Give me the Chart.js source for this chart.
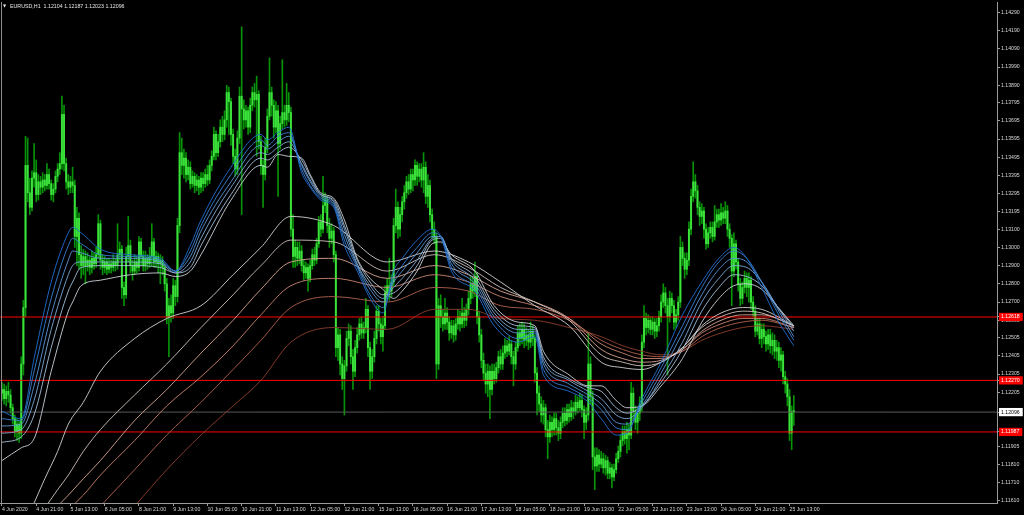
<!DOCTYPE html>
<html><head><meta charset="utf-8">
<script src="https://cdn.jsdelivr.net/npm/chart.js@4"></script>
<style>
html,body{margin:0;padding:0;background:#000;overflow:hidden}
#wrap{position:relative;width:1024px;height:515px}
#leftEdge{position:absolute;left:1px;top:2px;width:1px;height:501px;background:#8c8c8c}
</style></head>
<body><div id="wrap"><canvas id="c" width="1024" height="515"></canvas><div id="leftEdge"></div></div>
<script>
const symbolTitle = 'EURUSD,H1  1.12104 1.12187 1.12023 1.12096';

const xTickIdx = [0,16,32,48,64,80,96,112,128,144,160,176,192,208,224,240,256,272,288,304,320,336,352,368];
const xTickLabels = ['4 Jun 2020','4 Jun 21:00','5 Jun 13:00','8 Jun 05:00','8 Jun 21:00','9 Jun 13:00','10 Jun 05:00','10 Jun 21:00','11 Jun 13:00','12 Jun 05:00','12 Jun 21:00','15 Jun 13:00','16 Jun 05:00','16 Jun 21:00','17 Jun 13:00','18 Jun 05:00','18 Jun 21:00','19 Jun 13:00','22 Jun 05:00','22 Jun 21:00','23 Jun 13:00','24 Jun 05:00','24 Jun 21:00','25 Jun 13:00'];

const yTickLabels = ['1.14290','1.14190','1.14090','1.13990','1.13890','1.13795','1.13695','1.13595','1.13495','1.13395','1.13295','1.13195','1.13100','1.13000','1.12900','1.12800','1.12700','1.12600','1.12505','1.12405','1.12305','1.12205','1.11905','1.11810','1.11710','1.11610'];
const redLevels = [1.12618, 1.12270, 1.11987];
const bidLevel = 1.12096;

const opens = [
1.1220,1.1222,1.1217,1.1221,1.1219,1.1212,1.1206,1.1199,1.1203,1.1198,
1.1236,1.1267,1.1345,1.1330,1.1322,1.1338,1.1341,1.1329,1.1336,1.1333,
1.1337,1.1334,1.1340,1.1335,1.1329,1.1332,1.1339,1.1343,1.1346,1.1373,
1.1346,1.1336,1.1333,1.1336,1.1334,1.1306,1.1316,1.1296,1.1290,1.1295,
1.1290,1.1293,1.1289,1.1294,1.1291,1.1296,1.1313,1.1293,1.1289,1.1292,
1.1288,1.1291,1.1289,1.1292,1.1290,1.1296,1.1299,1.1278,1.1274,1.1295,
1.1301,1.1290,1.1287,1.1292,1.1289,1.1303,1.1295,1.1290,1.1294,1.1291,
1.1295,1.1303,1.1292,1.1295,1.1291,1.1293,1.1289,1.1280,1.1262,1.1268,
1.1264,1.1279,1.1273,1.1312,1.1352,1.1345,1.1349,1.1340,1.1344,1.1335,
1.1339,1.1334,1.1337,1.1333,1.1338,1.1335,1.1340,1.1337,1.1345,1.1350,
1.1362,1.1352,1.1358,1.1366,1.1362,1.1370,1.1385,1.1380,1.1362,1.1350,
1.1343,1.1360,1.1383,1.1376,1.1370,1.1375,1.1366,1.1378,1.1385,1.1381,
1.1384,1.1358,1.1345,1.1340,1.1355,1.1372,1.1385,1.1378,1.1366,1.1375,
1.1357,1.1368,1.1374,1.1370,1.1378,1.1374,1.1310,1.1295,1.1300,1.1294,
1.1298,1.1290,1.1286,1.1289,1.1283,1.1290,1.1296,1.1293,1.1302,1.1314,
1.1310,1.1323,1.1326,1.1312,1.1305,1.1309,1.1296,1.1245,1.1252,1.1236,
1.1228,1.1235,1.1250,1.1254,1.1240,1.1232,1.1245,1.1252,1.1258,1.1253,
1.1256,1.1266,1.1245,1.1232,1.1240,1.1250,1.1265,1.1258,1.1251,1.1257,
1.1275,1.1279,1.1276,1.1281,1.1312,1.1322,1.1310,1.1318,1.1325,1.1330,
1.1336,1.1332,1.1340,1.1337,1.1345,1.1339,1.1343,1.1337,1.1344,1.1328,
1.1334,1.1318,1.1310,1.1306,1.1236,1.1268,1.1262,1.1258,1.1264,1.1259,
1.1253,1.1257,1.1252,1.1258,1.1262,1.1258,1.1264,1.1260,1.1266,1.1272,
1.1280,1.1276,1.1284,1.1262,1.1252,1.1238,1.1231,1.1225,1.1232,1.1222,
1.1232,1.1228,1.1234,1.1240,1.1236,1.1242,1.1246,1.1243,1.1247,1.1240,
1.1236,1.1245,1.1253,1.1250,1.1255,1.1249,1.1252,1.1248,1.1254,1.1250,
1.1231,1.1220,1.1214,1.1208,1.1212,1.1200,1.1196,1.1204,1.1200,1.1206,
1.1201,1.1198,1.1204,1.1209,1.1205,1.1211,1.1207,1.1212,1.1210,1.1215,
1.1212,1.1216,1.1211,1.1204,1.1208,1.1236,1.1218,1.1185,1.1180,1.1186,
1.1181,1.1184,1.1179,1.1183,1.1176,1.1179,1.1174,1.1178,1.1184,1.1188,
1.1194,1.1199,1.1195,1.1200,1.1197,1.1220,1.1210,1.1204,1.1209,1.1214,
1.1248,1.1261,1.1256,1.1260,1.1255,1.1259,1.1254,1.1257,1.1262,1.1270,
1.1275,1.1268,1.1262,1.1272,1.1268,1.1259,1.1263,1.1270,1.1300,1.1294,
1.1288,1.1293,1.1310,1.1328,1.1336,1.1331,1.1322,1.1317,1.1320,1.1310,
1.1302,1.1308,1.1311,1.1306,1.1314,1.1318,1.1315,1.1319,1.1316,1.1320,
1.1310,1.1305,1.1287,1.1302,1.1292,1.1280,1.1272,1.1278,1.1283,1.1278,
1.1282,1.1270,1.1265,1.1254,1.1258,1.1250,1.1255,1.1251,1.1247,1.1252,
1.1246,1.1249,1.1243,1.1245,1.1238,1.1241,1.1229,1.1225,1.1218,1.1198,
1.12104];
const highs = [
1.1226,1.1225,1.1224,1.1226,1.1222,1.1214,1.1208,1.1206,1.1205,1.1240,
1.1271,1.1361,1.1360,1.1338,1.1342,1.1357,1.1348,1.1340,1.1339,1.1341,
1.1340,1.1346,1.1343,1.1337,1.1335,1.1342,1.1346,1.1352,1.1383,1.1378,
1.1349,1.1340,1.1339,1.1344,1.1337,1.1322,1.1319,1.1301,1.1299,1.1298,
1.1297,1.1295,1.1298,1.1297,1.1300,1.1318,1.1315,1.1296,1.1295,1.1294,
1.1294,1.1293,1.1296,1.1294,1.1313,1.1303,1.1301,1.1281,1.1300,1.1317,
1.1304,1.1293,1.1296,1.1295,1.1306,1.1305,1.1298,1.1298,1.1296,1.1300,
1.1313,1.1305,1.1298,1.1297,1.1296,1.1295,1.1291,1.1283,1.1272,1.1274,
1.1283,1.1282,1.1316,1.1363,1.1360,1.1354,1.1352,1.1348,1.1347,1.1342,
1.1341,1.1340,1.1339,1.1341,1.1341,1.1343,1.1345,1.1348,1.1353,1.1366,
1.1364,1.1362,1.1370,1.1372,1.1375,1.1389,1.1388,1.1382,1.1365,1.1354,
1.1364,1.1388,1.1421,1.1381,1.1378,1.1377,1.1382,1.1388,1.1390,1.1394,
1.1386,1.1361,1.1348,1.1360,1.1376,1.1404,1.1388,1.1381,1.1380,1.1378,
1.1372,1.1403,1.1378,1.1390,1.1385,1.1377,1.1318,1.1304,1.1303,1.1303,
1.1301,1.1293,1.1292,1.1291,1.1293,1.1299,1.1300,1.1305,1.1317,1.1318,
1.1339,1.1330,1.1328,1.1316,1.1313,1.1311,1.1298,1.1256,1.1255,1.1240,
1.1238,1.1254,1.1258,1.1257,1.1244,1.1249,1.1256,1.1261,1.1262,1.1259,
1.1272,1.1268,1.1248,1.1244,1.1254,1.1268,1.1268,1.1261,1.1262,1.1279,
1.1283,1.1294,1.1285,1.1316,1.1332,1.1325,1.1322,1.1328,1.1334,1.1339,
1.1340,1.1343,1.1343,1.1348,1.1347,1.1346,1.1346,1.1352,1.1347,1.1340,
1.1337,1.1321,1.1314,1.1308,1.1272,1.1274,1.1266,1.1272,1.1267,1.1262,
1.1260,1.1260,1.1261,1.1266,1.1265,1.1272,1.1267,1.1269,1.1276,1.1284,
1.1284,1.1292,1.1286,1.1265,1.1255,1.1242,1.1236,1.1236,1.1235,1.1236,
1.1236,1.1237,1.1243,1.1244,1.1246,1.1250,1.1249,1.1251,1.1249,1.1243,
1.1248,1.1257,1.1258,1.1259,1.1258,1.1256,1.1255,1.1259,1.1257,1.1252,
1.1234,1.1224,1.1218,1.1216,1.1214,1.1205,1.1208,1.1207,1.1209,1.1209,
1.1205,1.1207,1.1212,1.1212,1.1214,1.1214,1.1216,1.1215,1.1219,1.1218,
1.1220,1.1219,1.1213,1.1212,1.1253,1.1240,1.1221,1.1190,1.1190,1.1189,
1.1188,1.1187,1.1186,1.1185,1.1182,1.1181,1.1181,1.1187,1.1191,1.1197,
1.1202,1.1202,1.1204,1.1203,1.1226,1.1223,1.1213,1.1212,1.1218,1.1252,
1.1268,1.1264,1.1263,1.1262,1.1262,1.1261,1.1261,1.1265,1.1274,1.1280,
1.1278,1.1272,1.1276,1.1275,1.1271,1.1266,1.1273,1.1306,1.1303,1.1297,
1.1297,1.1314,1.1332,1.1347,1.1340,1.1334,1.1325,1.1324,1.1322,1.1313,
1.1311,1.1314,1.1314,1.1323,1.1321,1.1321,1.1324,1.1322,1.1325,1.1323,
1.1313,1.1307,1.1308,1.1304,1.1294,1.1283,1.1281,1.1287,1.1286,1.1286,
1.1284,1.1273,1.1268,1.1261,1.1261,1.1258,1.1258,1.1254,1.1255,1.1255,
1.1253,1.1252,1.1249,1.1248,1.1245,1.1243,1.1232,1.1228,1.1222,1.1213,
1.12187];
const lows = [
1.1216,1.1214,1.1213,1.1215,1.1209,1.1203,1.1196,1.1194,1.1193,1.1195,
1.1230,1.1262,1.1325,1.1318,1.1320,1.1333,1.1325,1.1326,1.1329,1.1330,
1.1331,1.1332,1.1332,1.1326,1.1325,1.1330,1.1336,1.1340,1.1343,1.1342,
1.1332,1.1329,1.1330,1.1330,1.1300,1.1290,1.1288,1.1283,1.1285,1.1280,
1.1287,1.1285,1.1286,1.1288,1.1289,1.1294,1.1288,1.1285,1.1286,1.1285,
1.1286,1.1286,1.1287,1.1287,1.1288,1.1293,1.1272,1.1268,1.1272,1.1292,
1.1286,1.1282,1.1285,1.1286,1.1287,1.1290,1.1287,1.1287,1.1288,1.1289,
1.1290,1.1289,1.1289,1.1286,1.1280,1.1285,1.1276,1.1258,1.1240,1.1259,
1.1261,1.1268,1.1270,1.1308,1.1340,1.1338,1.1336,1.1337,1.1332,1.1333,
1.1330,1.1331,1.1329,1.1330,1.1331,1.1333,1.1334,1.1335,1.1342,1.1348,
1.1348,1.1350,1.1355,1.1358,1.1359,1.1366,1.1362,1.1356,1.1346,1.1339,
1.1340,1.1357,1.1318,1.1365,1.1366,1.1362,1.1363,1.1375,1.1377,1.1350,
1.1354,1.1340,1.1322,1.1337,1.1352,1.1370,1.1372,1.1360,1.1363,1.1328,
1.1354,1.1365,1.1366,1.1367,1.1369,1.1306,1.1289,1.1289,1.1290,1.1291,
1.1287,1.1282,1.1283,1.1276,1.1281,1.1288,1.1290,1.1291,1.1300,1.1306,
1.1308,1.1319,1.1308,1.1300,1.1302,1.1292,1.1240,1.1238,1.1230,1.1222,
1.1208,1.1232,1.1246,1.1236,1.1222,1.1229,1.1242,1.1249,1.1250,1.1250,
1.1253,1.1240,1.1222,1.1228,1.1237,1.1247,1.1254,1.1247,1.1243,1.1255,
1.1271,1.1271,1.1273,1.1279,1.1308,1.1305,1.1306,1.1314,1.1321,1.1327,
1.1329,1.1330,1.1331,1.1334,1.1334,1.1336,1.1333,1.1330,1.1324,1.1322,
1.1314,1.1305,1.1302,1.1228,1.1233,1.1256,1.1254,1.1255,1.1255,1.1249,
1.1250,1.1248,1.1249,1.1255,1.1254,1.1256,1.1256,1.1257,1.1263,1.1269,
1.1272,1.1273,1.1258,1.1248,1.1234,1.1227,1.1220,1.1218,1.1206,1.1219,
1.1225,1.1226,1.1231,1.1233,1.1233,1.1239,1.1240,1.1241,1.1236,1.1224,
1.1233,1.1243,1.1246,1.1247,1.1245,1.1246,1.1244,1.1245,1.1246,1.1226,
1.1208,1.1210,1.1204,1.1203,1.1196,1.1184,1.1193,1.1196,1.1197,1.1197,
1.1194,1.1195,1.1201,1.1202,1.1203,1.1204,1.1205,1.1206,1.1208,1.1209,
1.1210,1.1207,1.1195,1.1200,1.1205,1.1214,1.1178,1.1167,1.1177,1.1177,
1.1179,1.1176,1.1175,1.1173,1.1173,1.1168,1.1172,1.1176,1.1182,1.1185,
1.1191,1.1192,1.1187,1.1189,1.1195,1.1206,1.1200,1.1198,1.1205,1.1210,
1.1245,1.1252,1.1253,1.1252,1.1252,1.1250,1.1251,1.1254,1.1259,1.1267,
1.1264,1.1230,1.1259,1.1264,1.1255,1.1256,1.1260,1.1267,1.1290,1.1283,
1.1285,1.1290,1.1307,1.1325,1.1327,1.1318,1.1312,1.1313,1.1305,1.1299,
1.1300,1.1305,1.1303,1.1304,1.1311,1.1311,1.1312,1.1313,1.1313,1.1306,
1.1300,1.1268,1.1284,1.1288,1.1276,1.1268,1.1269,1.1275,1.1273,1.1270,
1.1266,1.1262,1.1251,1.1252,1.1247,1.1245,1.1247,1.1243,1.1244,1.1242,
1.1241,1.1239,1.1238,1.1234,1.1232,1.1225,1.1220,1.1213,1.1194,1.1189,
1.12023];
const closes = [
1.1222,1.1217,1.1221,1.1219,1.1212,1.1206,1.1199,1.1203,1.1198,1.1236,
1.1267,1.1345,1.1330,1.1322,1.1338,1.1341,1.1329,1.1336,1.1333,1.1337,
1.1334,1.1340,1.1335,1.1329,1.1332,1.1339,1.1343,1.1346,1.1373,1.1346,
1.1336,1.1333,1.1336,1.1334,1.1306,1.1316,1.1296,1.1290,1.1295,1.1290,
1.1293,1.1289,1.1294,1.1291,1.1296,1.1313,1.1293,1.1289,1.1292,1.1288,
1.1291,1.1289,1.1292,1.1290,1.1296,1.1299,1.1278,1.1274,1.1295,1.1301,
1.1290,1.1287,1.1292,1.1289,1.1303,1.1295,1.1290,1.1294,1.1291,1.1295,
1.1303,1.1292,1.1295,1.1291,1.1293,1.1289,1.1280,1.1262,1.1268,1.1264,
1.1279,1.1273,1.1312,1.1352,1.1345,1.1349,1.1340,1.1344,1.1335,1.1339,
1.1334,1.1337,1.1333,1.1338,1.1335,1.1340,1.1337,1.1345,1.1350,1.1362,
1.1352,1.1358,1.1366,1.1362,1.1370,1.1385,1.1380,1.1362,1.1350,1.1343,
1.1360,1.1383,1.1376,1.1370,1.1375,1.1366,1.1378,1.1385,1.1381,1.1384,
1.1358,1.1345,1.1340,1.1355,1.1372,1.1385,1.1378,1.1366,1.1375,1.1357,
1.1368,1.1374,1.1370,1.1378,1.1374,1.1310,1.1295,1.1300,1.1294,1.1298,
1.1290,1.1286,1.1289,1.1283,1.1290,1.1296,1.1293,1.1302,1.1314,1.1310,
1.1323,1.1326,1.1312,1.1305,1.1309,1.1296,1.1245,1.1252,1.1236,1.1228,
1.1235,1.1250,1.1254,1.1240,1.1232,1.1245,1.1252,1.1258,1.1253,1.1256,
1.1266,1.1245,1.1232,1.1240,1.1250,1.1265,1.1258,1.1251,1.1257,1.1275,
1.1279,1.1276,1.1281,1.1312,1.1322,1.1310,1.1318,1.1325,1.1330,1.1336,
1.1332,1.1340,1.1337,1.1345,1.1339,1.1343,1.1337,1.1344,1.1328,1.1334,
1.1318,1.1310,1.1306,1.1236,1.1268,1.1262,1.1258,1.1264,1.1259,1.1253,
1.1257,1.1252,1.1258,1.1262,1.1258,1.1264,1.1260,1.1266,1.1272,1.1280,
1.1276,1.1284,1.1262,1.1252,1.1238,1.1231,1.1225,1.1232,1.1222,1.1232,
1.1228,1.1234,1.1240,1.1236,1.1242,1.1246,1.1243,1.1247,1.1240,1.1236,
1.1245,1.1253,1.1250,1.1255,1.1249,1.1252,1.1248,1.1254,1.1250,1.1231,
1.1220,1.1214,1.1208,1.1212,1.1200,1.1196,1.1204,1.1200,1.1206,1.1201,
1.1198,1.1204,1.1209,1.1205,1.1211,1.1207,1.1212,1.1210,1.1215,1.1212,
1.1216,1.1211,1.1204,1.1208,1.1236,1.1218,1.1185,1.1180,1.1186,1.1181,
1.1184,1.1179,1.1183,1.1176,1.1179,1.1174,1.1178,1.1184,1.1188,1.1194,
1.1199,1.1195,1.1200,1.1197,1.1220,1.1210,1.1204,1.1209,1.1214,1.1248,
1.1261,1.1256,1.1260,1.1255,1.1259,1.1254,1.1257,1.1262,1.1270,1.1275,
1.1268,1.1262,1.1272,1.1268,1.1259,1.1263,1.1270,1.1300,1.1294,1.1288,
1.1293,1.1310,1.1328,1.1336,1.1331,1.1322,1.1317,1.1320,1.1310,1.1302,
1.1308,1.1311,1.1306,1.1314,1.1318,1.1315,1.1319,1.1316,1.1320,1.1310,
1.1305,1.1287,1.1302,1.1292,1.1280,1.1272,1.1278,1.1283,1.1278,1.1282,
1.1270,1.1265,1.1254,1.1258,1.1250,1.1255,1.1251,1.1247,1.1252,1.1246,
1.1249,1.1243,1.1245,1.1238,1.1241,1.1229,1.1225,1.1218,1.1198,1.1210,
1.12096];

// fast group of moving averages (values read at these bar indexes)
const shortIdx = [0,9,15,23,31,33,37,46,60,74,81,88,93,107,121,124,129,134,140,144,149,155,160,166,172,178,183,187,194,201,205,210,221,230,241,249,253,265,274,280,287,292,299,308,318,327,335,342,348,355,362,370];
const maS1 = [1.1210,1.1206,1.1239,1.1281,1.1308,1.1311,1.1308,1.1299,1.1296,1.1294,1.1287,1.1301,1.1315,1.1344,1.1362,1.1359,1.1363,1.1366,1.1341,1.1333,1.1326,1.1322,1.1301,1.1287,1.1272,1.1264,1.1287,1.1294,1.1304,1.1310,1.1306,1.1287,1.1276,1.1257,1.1248,1.1251,1.1230,1.1221,1.1215,1.1206,1.1197,1.1198,1.1217,1.1237,1.1263,1.1281,1.1294,1.1300,1.1294,1.1278,1.1261,1.1246];
const maS2 = [1.1206,1.1205,1.1232,1.1272,1.1301,1.1305,1.1302,1.1296,1.1295,1.1293,1.1287,1.1298,1.1312,1.1340,1.1359,1.1356,1.1361,1.1363,1.1343,1.1334,1.1327,1.1323,1.1304,1.1289,1.1274,1.1267,1.1283,1.1290,1.1300,1.1308,1.1306,1.1289,1.1278,1.1260,1.1250,1.1253,1.1233,1.1223,1.1217,1.1211,1.1201,1.1200,1.1215,1.1234,1.1257,1.1278,1.1292,1.1298,1.1294,1.1281,1.1265,1.1249];
const maS3 = [1.1202,1.1203,1.1224,1.1263,1.1293,1.1298,1.1297,1.1294,1.1294,1.1292,1.1287,1.1295,1.1309,1.1336,1.1356,1.1354,1.1358,1.1361,1.1345,1.1336,1.1328,1.1324,1.1307,1.1290,1.1277,1.1270,1.1281,1.1287,1.1297,1.1306,1.1306,1.1291,1.1280,1.1262,1.1253,1.1254,1.1236,1.1225,1.1219,1.1214,1.1204,1.1203,1.1213,1.1231,1.1253,1.1274,1.1288,1.1294,1.1292,1.1281,1.1267,1.1251];
const maS4 = [1.1198,1.1200,1.1216,1.1255,1.1285,1.1290,1.1292,1.1292,1.1292,1.1291,1.1286,1.1292,1.1305,1.1333,1.1352,1.1351,1.1355,1.1358,1.1346,1.1337,1.1329,1.1325,1.1310,1.1291,1.1279,1.1272,1.1278,1.1283,1.1293,1.1305,1.1306,1.1293,1.1282,1.1264,1.1255,1.1255,1.1238,1.1227,1.1221,1.1217,1.1208,1.1206,1.1212,1.1228,1.1248,1.1270,1.1283,1.1290,1.1289,1.1281,1.1268,1.1254];
const maS5 = [1.1193,1.1196,1.1208,1.1245,1.1276,1.1281,1.1289,1.1290,1.1290,1.1289,1.1286,1.1289,1.1301,1.1329,1.1349,1.1348,1.1352,1.1355,1.1348,1.1339,1.1329,1.1326,1.1312,1.1293,1.1281,1.1274,1.1275,1.1279,1.1290,1.1304,1.1305,1.1294,1.1284,1.1266,1.1257,1.1256,1.1240,1.1228,1.1223,1.1221,1.1212,1.1209,1.1213,1.1226,1.1244,1.1265,1.1278,1.1285,1.1284,1.1279,1.1268,1.1256];
const maS6 = [1.1183,1.1190,1.1195,1.1232,1.1265,1.1270,1.1279,1.1282,1.1285,1.1286,1.1284,1.1287,1.1296,1.1326,1.1345,1.1344,1.1351,1.1350,1.1349,1.1340,1.1330,1.1327,1.1315,1.1294,1.1283,1.1277,1.1272,1.1276,1.1287,1.1302,1.1303,1.1296,1.1287,1.1268,1.1259,1.1257,1.1243,1.1230,1.1224,1.1224,1.1216,1.1212,1.1213,1.1224,1.1239,1.1259,1.1272,1.1279,1.1280,1.1277,1.1268,1.1257];

// slow group of moving averages
const longIdx = [14,20,26,31,38,46,62,77,93,108,121,135,155,180,202,218,233,249,265,280,290,299,308,318,327,336,346,355,370];
const maL1 = [1.1157,1.1173,1.1188,1.1203,1.1215,1.1232,1.1250,1.1261,1.1268,1.1285,1.1300,1.1317,1.1312,1.1292,1.1298,1.1292,1.1281,1.1268,1.1257,1.1237,1.1234,1.1233,1.1237,1.1245,1.1257,1.1264,1.1267,1.1266,1.1257];
const maL2 = [null,1.1157,1.1167,1.1175,1.1188,1.1200,1.1219,1.1236,1.1256,1.1274,1.1290,1.1304,1.1303,1.1287,1.1296,1.1289,1.1278,1.1270,1.1260,1.1241,1.1237,1.1235,1.1237,1.1245,1.1256,1.1262,1.1265,1.1264,1.1257];
const maL3 = [null,null,1.1158,1.1164,1.1173,1.1183,1.1205,1.1222,1.1242,1.1260,1.1277,1.1292,1.1294,1.1283,1.1290,1.1285,1.1276,1.1270,1.1261,1.1244,1.1239,1.1237,1.1238,1.1244,1.1254,1.1260,1.1263,1.1263,1.1257];
const maL4 = [null,null,null,1.1156,1.1164,1.1175,1.1194,1.1213,1.1229,1.1246,1.1263,1.1279,1.1283,1.1278,1.1285,1.1281,1.1273,1.1268,1.1261,1.1247,1.1242,1.1239,1.1239,1.1244,1.1253,1.1258,1.1261,1.1261,1.1256];
const maL5 = [null,null,null,null,null,1.1158,1.1178,1.1197,1.1215,1.1233,1.1249,1.1267,1.1273,1.1270,1.1278,1.1276,1.1268,1.1266,1.1260,1.1249,1.1244,1.1241,1.1240,1.1243,1.1251,1.1256,1.1259,1.1260,1.1256];
const maL6 = [null,null,null,null,null,null,1.1158,1.1178,1.1197,1.1213,1.1227,1.1248,1.1256,1.1255,1.1266,1.1266,1.1261,1.1260,1.1256,1.1251,1.1246,1.1243,1.1241,1.1243,1.1249,1.1253,1.1256,1.1257,1.1255];

// ---------- chart setup ----------
const X_MIN = -0.93, X_MAX = 464.95;
const Y_MIN = 1.11597, Y_MAX = 1.14347;
const FONT = 'Liberation Sans';

const toPts = (idx, vals) => idx.map((x, k) => ({x, y: vals[k]})).filter(p => p.y !== null);
const maLine = (idx, vals, color, order) => ({
  type: 'line', data: toPts(idx, vals), borderColor: color, borderWidth: 0.9,
  pointRadius: 0, cubicInterpolationMode: 'monotone', fill: false, order
});
const hLine = (v, color) => ({
  type: 'line', data: [{x: X_MIN, y: v}, {x: X_MAX, y: v}], borderColor: color,
  borderWidth: 1, pointRadius: 0, fill: false, order: 14
});

const isRed = v => redLevels.some(r => Math.abs(r - v) < 1e-7);
const isBid = v => Math.abs(v - bidLevel) < 1e-7;
const yTickValues = yTickLabels.map(Number).concat(redLevels, [bidLevel]);

const titlePlugin = {
  id: 'mt4title',
  afterDraw(chart) {
    const ctx = chart.ctx;
    ctx.save();
    ctx.fillStyle = '#e6e6e6';
    ctx.textBaseline = 'middle';
    ctx.font = '4px "DejaVu Sans"';
    ctx.fillText('\u25BC', 3, 6);
    ctx.font = '5.3px "' + FONT + '"';
    ctx.fillText(symbolTitle, 10, 6.5);
    ctx.restore();
  }
};

new Chart(document.getElementById('c'), {
  type: 'bar',
  data: {
    datasets: [
      { type: 'bar', data: highs.map((h, i) => ({x: i, y: [lows[i], h]})),
        backgroundColor: '#079207', barThickness: 1, grouped: false, order: 20 },
      { type: 'bar', data: opens.map((o, i) => ({x: i, y: [o, closes[i]]})),
        backgroundColor: '#3ce23c', barThickness: 1.3, minBarLength: 1, grouped: false, order: 19 },
      hLine(redLevels[0], '#ff0000'),
      hLine(redLevels[1], '#ff0000'),
      hLine(redLevels[2], '#ff0000'),
      hLine(bidLevel, '#5a5a5a'),
      maLine(longIdx, maL6, '#8f3e2e', 12),
      maLine(longIdx, maL5, '#b3634f', 11),
      maLine(longIdx, maL4, '#c98470', 10),
      maLine(longIdx, maL3, '#d9a595', 9),
      maLine(longIdx, maL2, '#d0c2bc', 8),
      maLine(longIdx, maL1, '#d4d4d4', 7),
      maLine(shortIdx, maS6, '#cdd4da', 6),
      maLine(shortIdx, maS5, '#a6c0d8', 5),
      maLine(shortIdx, maS4, '#80aad6', 4),
      maLine(shortIdx, maS3, '#5c96d6', 3),
      maLine(shortIdx, maS2, '#3a82d6', 2),
      maLine(shortIdx, maS1, '#1f6fd4', 1)
    ]
  },
  options: {
    responsive: false, animation: false, devicePixelRatio: 1, events: [],
    layout: { padding: { top: 2, left: 0, right: 0, bottom: 0 } },
    plugins: { legend: { display: false }, tooltip: { enabled: false }, title: { display: false } },
    scales: {
      x: {
        type: 'linear', min: X_MIN, max: X_MAX, offset: false,
        afterBuildTicks: s => { s.ticks = xTickIdx.map(v => ({value: v})); },
        afterFit: s => { s.height = 12; s.paddingLeft = 0; s.paddingRight = 0; },
        ticks: { autoSkip: false, maxRotation: 0, minRotation: 0, align: 'start', padding: 0,
          color: '#d8d8d8', font: { family: FONT, size: 5.2 },
          callback: v => xTickLabels[xTickIdx.indexOf(v)] },
        grid: { drawOnChartArea: false, drawTicks: true, tickLength: 3, color: '#9a9a9a', offset: false },
        border: { display: true, color: '#9a9a9a' }
      },
      y: {
        type: 'linear', position: 'right', min: Y_MIN, max: Y_MAX, beginAtZero: false,
        afterBuildTicks: s => { s.ticks = yTickValues.map(v => ({value: v})); },
        afterFit: s => { s.width = 27; s.paddingTop = 0; s.paddingBottom = 0; },
        ticks: { autoSkip: false, padding: 1,
          font: { family: FONT, size: 5.2 },
          callback: v => v.toFixed(5),
          color: c => isRed(c.tick.value) ? '#ffffff' : (isBid(c.tick.value) ? '#000000' : '#d8d8d8'),
          showLabelBackdrop: c => isRed(c.tick.value) || isBid(c.tick.value),
          backdropColor: c => isRed(c.tick.value) ? '#ff0000' : '#ffffff',
          backdropPadding: { left: 2, right: 3, top: 1, bottom: 1 } },
        grid: { drawOnChartArea: false, drawTicks: true, tickLength: 3, color: '#9a9a9a' },
        border: { display: true, color: '#9a9a9a' }
      }
    }
  },
  plugins: [titlePlugin]
});
</script>
</body></html>
